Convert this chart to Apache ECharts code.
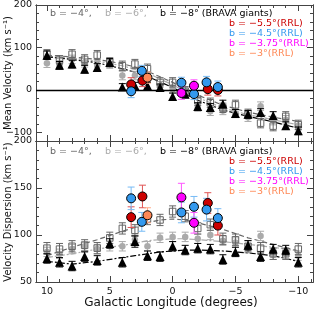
<!DOCTYPE html>
<html><head><meta charset="utf-8">
<script src="https://cdn.jsdelivr.net/npm/echarts@6/dist/echarts.min.js"></script>
<style>html,body{margin:0;padding:0;background:#fff}#c{width:315px;height:310px}</style>
</head><body><div id="c"></div>
<script>
// ---------- data ----------
const lon = [10,9,8,7,6,5,4,3,2,1,0,-1,-2,-3,-4,-5,-6,-7,-8,-9,-10];
// b = -8 (BRAVA giants)
const meanB8 = [82,58,61,49,53,65,7,10,10,6,-15,-10,-39,-41,-33,-55,-57,-53,-60,-84,-96];
const meanErrB8 = [10,9,9,9,9,9,8,8,8,8,8,8,9,9,9,9,9,9,9,9,9];
const dispB8 = [75,71,67,77,73,91,71,93,78,77,88,84,86,85,74,82,89,77,85,84,71];
const dispErrB8 = [5,5,5,5,5,5,5,6,5,5,5,5,5,5,5,5,5,5,5,5,5];
// b = -4
const meanB4 = [84,70,84,72,82,65,57,61,50,18,18,-3,-25,-30,-42,-35,-56,-78,-85,-62,-82];
const meanErrB4 = [11,11,11,11,11,11,11,11,11,11,11,11,11,11,11,11,11,11,11,11,11];
const dispB4 = [86,85,88,89,86,97,107,105,117,116,125,120,107,111,96,95,88,86,80,80,85];
const dispErrB4 = [6,6,6,6,6,6,6,6,6,6,6,6,6,6,6,6,6,6,6,6,6];
// b = -6
const meanB6 = [63,64,72,64,57,61,34,34,30,10,2,-5,-40,-50,-48,-55,-64,-38,-72,-70,-84];
const meanErrB6 = [10,10,10,10,10,10,10,10,10,10,10,10,10,10,10,10,10,10,10,10,10];
const dispB6 = [82,80,85,88,85,88,88,95,88,97,98,98,96,100,94,92,86,99,79,80,78];
const dispErrB6 = [5,5,5,5,5,5,5,5,5,5,5,5,5,5,5,5,5,5,5,5,5];
// model curves
const lonModel = [10,8,6,4,3,2,1,0,-1,-2,-4,-6,-8,-10];
const modelMeanB4 = [82,78,72,62,54,44,31,18,3,-12,-36,-52,-64,-74];
const modelMeanB6 = [80,75,68,57,49,40,26,12,-3,-18,-42,-58,-70,-82];
const modelMeanB8 = [78,72,64,50,42,32,19,6,-9,-24,-47,-62,-75,-90];
const modelDispB4 = [78,87,95,104,108,113,116,117,116,113,106,97,90,83];
const modelDispB6 = [76,80,85,89,91,94,95,96,96,95,93,90,87,83];
const modelDispB8 = [72,69,72,76,78,80,82,83,84,84,83,81,78,72];
// RR Lyrae
const rrlRedLon = [3.3,2.4,-2.8,-3.6];
const rrlRedMean = [13,22,2,0];
const rrlRedMeanErr = [16,14,14,14];
const rrlRedDisp = [119,141,134,110];
const rrlRedDispErr = [11,12,11,10];
const rrlBlueLon = [3.3,2.45,-0.7,-1.7,-2.7,-3.6];
const rrlBlueMean = [-3,45,17,-9.5,18,7];
const rrlBlueMeanErr = [15,13,13,13,14,14];
const rrlBlueDisp = [139,114,124,130,127,118];
const rrlBlueDispErr = [12,10,11,11,12,10];
const rrlMagLon = [-0.7,-1.7];
const rrlMagMean = [-7,10];
const rrlMagMeanErr = [15,14];
const rrlMagDisp = [140,113];
const rrlMagDispErr = [15,11];
const rrlOrLon = [2.0];
const rrlOrMean = [29];
const rrlOrMeanErr = [13];
const rrlOrDisp = [121];
const rrlOrDispErr = [8];
// ticks
const xMajor = [-10,-5,0,5,10];
const yTopMajor = [-100,0,100,200];
const yBotMajor = [50,100,150,200];
function range(a,b,s){const r=[];for(let v=a;v<=b+1e-9;v+=s)r.push(v);return r;}
const xMinor = range(-11,10,1);
const yTopMinor = range(-120,200,20);
const yBotMinor = range(50,200,10);

// ---------- chart ----------
const FONT = 'DejaVu Sans';
const AX = '#444';
const X_MIN = -11.17, X_MAX = 10.87;
const fmt = v => (v < 0 ? '\u2212' + Math.abs(v) : String(v));

function xAx(grid, pos, ticks, len, labels){
  return {type:'value', gridIndex:grid, position:pos, min:X_MIN, max:X_MAX, inverse:true,
    axisLine:{show:true, onZero:false, lineStyle:{color:AX, width:1}},
    axisTick:{show:true, inside:true, length:len, customValues:ticks, lineStyle:{color:AX, width:1}},
    axisLabel:{show:!!labels, customValues:labels||ticks, formatter:fmt, color:'#111', fontFamily:FONT, fontSize:9.5, margin:5},
    splitLine:{show:false}};
}
function yAx(grid, pos, min, max, ticks, len, labels){
  return {type:'value', gridIndex:grid, position:pos, min:min, max:max,
    axisLine:{show:true, onZero:false, lineStyle:{color:AX, width:1}},
    axisTick:{show:true, inside:true, length:len, customValues:ticks, lineStyle:{color:AX, width:1}},
    axisLabel:{show:!!labels, customValues:labels||ticks, formatter:fmt, color:'#111', fontFamily:FONT, fontSize:9.5, margin:4},
    splitLine:{show:false}};
}
const xAxes = [], yAxes = [];
[0,1].forEach(g=>{
  xAxes.push(xAx(g,'bottom',xMajor,6, g===1?xMajor:null));
  xAxes.push(xAx(g,'bottom',xMinor,3,null));
  xAxes.push(xAx(g,'top',xMajor,6,null));
  xAxes.push(xAx(g,'top',xMinor,3,null));
});
yAxes.push(yAx(0,'left',-120,200,yTopMajor,6,yTopMajor));
yAxes.push(yAx(0,'left',-120,200,yTopMinor,3,null));
yAxes.push(yAx(0,'right',-120,200,yTopMajor,6,null));
yAxes.push(yAx(0,'right',-120,200,yTopMinor,3,null));
yAxes.push(yAx(1,'left',50,200,yBotMajor,6,yBotMajor));
yAxes.push(yAx(1,'left',50,200,yBotMinor,3,null));
yAxes.push(yAx(1,'right',50,200,yBotMajor,6,null));
yAxes.push(yAx(1,'right',50,200,yBotMinor,3,null));

function zip(a,b){return a.map((v,i)=>[v,b[i]]);}
function errSeries(g, xs, ys, es, color, cap, z){
  return {type:'custom', xAxisIndex:g*4, yAxisIndex:g*4, z:z, silent:true,
    data: xs.map((x,i)=>[x, ys[i]-es[i], ys[i]+es[i]]),
    encode:{x:0, y:[1,2]},
    renderItem:(params, api)=>{
      const p1 = api.coord([api.value(0), api.value(1)]);
      const p2 = api.coord([api.value(0), api.value(2)]);
      const st = {stroke:color, lineWidth:1};
      return {type:'group', children:[
        {type:'line', shape:{x1:p1[0],y1:p1[1],x2:p2[0],y2:p2[1]}, style:st},
        {type:'line', shape:{x1:p1[0]-cap,y1:p1[1],x2:p1[0]+cap,y2:p1[1]}, style:st},
        {type:'line', shape:{x1:p2[0]-cap,y1:p2[1],x2:p2[0]+cap,y2:p2[1]}, style:st}
      ]};
    }};
}
function pts(g, xs, ys, symbol, size, fill, border, bw, z){
  return {type:'scatter', xAxisIndex:g*4, yAxisIndex:g*4, z:z, silent:true,
    symbol:symbol, symbolSize:size, data:zip(xs,ys),
    itemStyle:{color:fill, borderColor:border, borderWidth:bw, opacity:1}};
}
function model(g, ys, color, dash, w, z){
  return {type:'line', xAxisIndex:g*4, yAxisIndex:g*4, z:z, silent:true, showSymbol:false,
    data:zip(lonModel, ys), lineStyle:{color:color, type:dash, width:w}};
}
const DARK = '#666', LIGHT = '#aaa';
const RED='#cc0000', BLUE='#3399ee', MAG='#ff00ff', ORA='#ff8855';
const series = [];
[[0,[meanB4,meanErrB4],[meanB6,meanErrB6],[meanB8,meanErrB8],[modelMeanB4,modelMeanB6,modelMeanB8],
   [[rrlRedLon,rrlRedMean,rrlRedMeanErr,RED,'#e05555'],[rrlBlueLon,rrlBlueMean,rrlBlueMeanErr,BLUE,'#77bbf5'],[rrlMagLon,rrlMagMean,rrlMagMeanErr,MAG,'#ff55ff'],[rrlOrLon,rrlOrMean,rrlOrMeanErr,ORA,'#ffaa88']]],
 [1,[dispB4,dispErrB4],[dispB6,dispErrB6],[dispB8,dispErrB8],[modelDispB4,modelDispB6,modelDispB8],
   [[rrlRedLon,rrlRedDisp,rrlRedDispErr,RED,'#e05555'],[rrlBlueLon,rrlBlueDisp,rrlBlueDispErr,BLUE,'#77bbf5'],[rrlMagLon,rrlMagDisp,rrlMagDispErr,MAG,'#ff55ff'],[rrlOrLon,rrlOrDisp,rrlOrDispErr,ORA,'#ffaa88']]]
].forEach(([g,b4,b6,b8,mod,rrl])=>{
  series.push(model(g, mod[0], DARK, [5,3], 1.2, 2));
  series.push(model(g, mod[1], LIGHT, [6,2,2,2], 1.2, 2));
  series.push(model(g, mod[2], '#000', [6,2,2,2], 1.2, 2));
  series.push(errSeries(g, lon, b6[0], b6[1], LIGHT, 3.5, 3));
  series.push(pts(g, lon, b6[0], 'circle', 6.5, LIGHT, LIGHT, 0, 4));
  series.push(errSeries(g, lon, b4[0], b4[1], DARK, 3.5, 5));
  series.push(pts(g, lon, b4[0], 'rect', 6.5, 'rgba(255,255,255,0)', DARK, 1, 6));
  series.push(errSeries(g, lon, b8[0], b8[1], '#000', 3.5, 7));
  series.push(pts(g, lon, b8[0], 'triangle', 9, '#000', '#000', 0, 8));
  rrl.forEach(([xs,ys,es,c,ec])=>{
    series.push(errSeries(g, xs, ys, es, ec, 3.5, 9));
    series.push(pts(g, xs, ys, 'circle', 9, c, '#000', 1, 10));
  });
});
// zero line in the top panel
series.push({type:'line', xAxisIndex:0, yAxisIndex:0, data:[], z:1, silent:true,
  markLine:{silent:true, symbol:'none', label:{show:false}, animation:false,
    lineStyle:{color:'#000', type:'solid', width:1.3}, data:[{yAxis:0}]}});

function txt(x,y,s,color,size,extra){
  return Object.assign({type:'text', x:x, y:y, silent:true,
    style:{text:s, fill:color, font:`${size||9.5}px "${FONT}"`, verticalAlign:'middle', align:'left'}}, extra||{});
}
const graphic = [];
[0,138].forEach(dy=>{
  graphic.push(txt(50,14+dy,'b = \u22124\u00b0,',DARK));
  graphic.push(txt(105,14+dy,'b = \u22126\u00b0,',LIGHT));
  graphic.push(txt(160,14+dy,'b = \u22128\u00b0 (BRAVA giants)','#000'));
  graphic.push(txt(229,24+dy,'b = \u22125.5\u00b0(RRL)',RED));
  graphic.push(txt(229,34+dy,'b = \u22124.5\u00b0(RRL)',BLUE));
  graphic.push(txt(229,44+dy,'b = \u22123.75\u00b0(RRL)',MAG));
  graphic.push(txt(229,54+dy,'b = \u22123\u00b0(RRL)',ORA));
});
graphic.push({type:'text', x:8, y:73, rotation:Math.PI/2, silent:true,
  style:{text:'Mean Velocity (km s\u207b\u00b9)', fill:'#111', font:`10px "${FONT}"`, align:'center', verticalAlign:'middle'}});
graphic.push({type:'text', x:8, y:212, rotation:Math.PI/2, silent:true,
  style:{text:'Velocity Dispersion (km s\u207b\u00b9)', fill:'#111', font:`10px "${FONT}"`, align:'center', verticalAlign:'middle'}});
graphic.push({type:'text', x:171, y:303, silent:true,
  style:{text:'Galactic Longitude (degrees)', fill:'#111', font:`12px "${FONT}"`, align:'center', verticalAlign:'middle'}});

const chart = echarts.init(document.getElementById('c'), null, {renderer:'canvas'});
chart.setOption({
  animation:false,
  backgroundColor:'#fff',
  grid:[{left:36, width:277, top:4, height:137},{left:36, width:277, top:141, height:141}],
  xAxis:xAxes, yAxis:yAxes, series:series, graphic:graphic
});
</script></body></html>
